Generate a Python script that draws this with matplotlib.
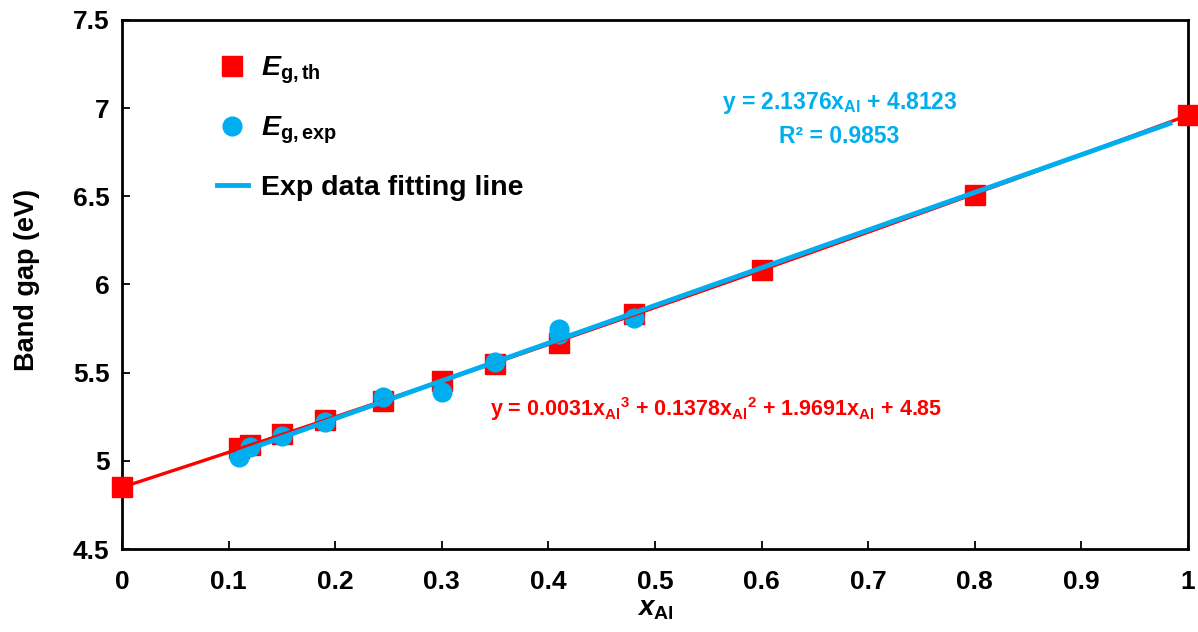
import numpy as np
import matplotlib
matplotlib.use("Agg")
import matplotlib.pyplot as plt

plt.rcParams['font.family'] = ['Liberation Sans', 'DejaVu Sans']
plt.rcParams['font.weight'] = 'bold'
plt.rcParams['mathtext.fontset'] = 'custom'
plt.rcParams['mathtext.rm'] = 'Liberation Sans:bold'
plt.rcParams['mathtext.bf'] = 'Liberation Sans:bold'
plt.rcParams['mathtext.it'] = 'Liberation Sans:bold:italic'
plt.rcParams['mathtext.default'] = 'rm'

# Theoretical band gap
x_th = [0.0, 0.11, 0.12, 0.15, 0.19, 0.245, 0.30, 0.35, 0.41, 0.48, 0.60, 0.80, 1.00]
eg_th = [4.85, 5.07, 5.09, 5.15, 5.23, 5.34, 5.45, 5.55, 5.67, 5.83, 6.08, 6.51, 6.96]

# Experimental band gap
x_exp = [0.11, 0.12, 0.15, 0.19, 0.245, 0.30, 0.35, 0.41, 0.41, 0.48]
eg_exp = [5.02, 5.08, 5.14, 5.22, 5.36, 5.39, 5.56, 5.75, 5.72, 5.81]

# Trendline coefficients (as displayed)
poly_th = [0.0031, 0.1378, 1.9691, 4.85]
lin_exp = [2.1376, 4.8123]
lin_range = [0.11, 0.983]

xticks = [0, 0.1, 0.2, 0.3, 0.4, 0.5, 0.6, 0.7, 0.8, 0.9, 1]
xticklabels = ['0', '0.1', '0.2', '0.3', '0.4', '0.5', '0.6', '0.7', '0.8', '0.9', '1']
yticks = [4.5, 5, 5.5, 6, 6.5, 7, 7.5]
yticklabels = ['4.5', '5', '5.5', '6', '6.5', '7', '7.5']

RED = '#FF0000'
BLUE = '#00AEEF'

fig = plt.figure(figsize=(11.98, 6.32), dpi=100)
ax = fig.add_axes([0.1018, 0.1313, 0.8899, 0.8371])

ax.plot(x_th, eg_th, 's', color=RED, ms=14, zorder=3, clip_on=False,
        label=r'$\mathit{E}_{\mathrm{g,th}}$')
ax.plot(x_exp, eg_exp, 'o', color=BLUE, ms=13.5, zorder=4, clip_on=False,
        label=r'$\mathit{E}_{\mathrm{g,exp}}$')

xx = np.linspace(0, 1, 200)
ax.plot(xx, np.polyval(poly_th, xx), '-', color=RED, lw=2.4, zorder=5)
xl = np.linspace(lin_range[0], lin_range[1], 50)
ax.plot(xl, np.polyval(lin_exp, xl), '-', color=BLUE, lw=3.5, zorder=6,
        label='Exp data fitting line')

ax.set_xlim(0, 1)
ax.set_ylim(4.5, 7.5)
ax.set_xticks(xticks)
ax.set_xticklabels(xticklabels)
ax.set_yticks(yticks)
ax.set_yticklabels(yticklabels)
ax.tick_params(direction='in', length=6, width=1.3, labelsize=19,
               top=False, right=False)
ax.tick_params(axis='x', pad=15)
ax.tick_params(axis='y', pad=9)
for lab in ax.get_xticklabels() + ax.get_yticklabels():
    lab.set_fontweight('bold')
for sp in ax.spines.values():
    sp.set_linewidth(2)

ax.set_xlabel(r'$\mathit{x}_{\mathrm{Al}}$', fontsize=20)
ax.xaxis.set_label_coords(0.5, -0.088)
ax.set_ylabel('Band gap (eV)', fontsize=19.5, fontweight='bold')
ax.yaxis.set_label_coords(-0.077, 0.508)

leg = ax.legend(loc='upper left', bbox_to_anchor=(0.078, 0.955), frameon=False,
                fontsize=20.5, labelspacing=1.0, handlelength=1.1,
                handletextpad=0.45, borderaxespad=0.0)
for t in leg.get_texts():
    t.set_fontweight('bold')

ax.text(0.673, 0.843, r'y = 2.1376$\mathrm{x_{Al}}$ + 4.8123', transform=ax.transAxes,
        color=BLUE, fontsize=16.5, fontweight='bold', ha='center', va='center')
ax.text(0.673, 0.779, 'R² = 0.9853', transform=ax.transAxes,
        color=BLUE, fontsize=16.5, fontweight='bold', ha='center', va='center')
ax.text(0.345, 0.264,
        r'y = 0.0031$\mathrm{x_{Al}{}^{3}}$ + 0.1378$\mathrm{x_{Al}{}^{2}}$ + 1.9691$\mathrm{x_{Al}}$ + 4.85',
        transform=ax.transAxes, color=RED, fontsize=15.5, fontweight='bold',
        ha='left', va='center')

fig.savefig('out.png', dpi=100)
